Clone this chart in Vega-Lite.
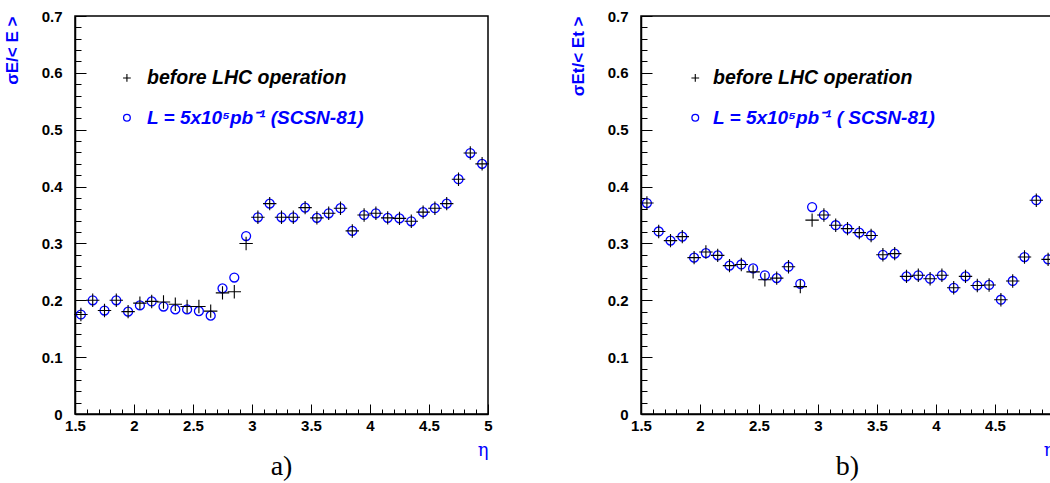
{
  "$schema": "https://vega.github.io/schema/vega-lite/v6.json",
  "padding": {"left": 2, "top": 8, "right": 0, "bottom": 0},
  "background": "white",
  "spacing": 75,
  "datasets": {
    "a": [
      {"eta": 1.55, "before": 0.175, "after": 0.175},
      {"eta": 1.65, "before": 0.200, "after": 0.200},
      {"eta": 1.75, "before": 0.182, "after": 0.182},
      {"eta": 1.85, "before": 0.200, "after": 0.200},
      {"eta": 1.95, "before": 0.180, "after": 0.180},
      {"eta": 2.05, "before": 0.195, "after": 0.191},
      {"eta": 2.15, "before": 0.198, "after": 0.198},
      {"eta": 2.25, "before": 0.197, "after": 0.189},
      {"eta": 2.35, "before": 0.193, "after": 0.184},
      {"eta": 2.45, "before": 0.189, "after": 0.184},
      {"eta": 2.55, "before": 0.189, "after": 0.181},
      {"eta": 2.65, "before": 0.181, "after": 0.173},
      {"eta": 2.75, "before": 0.213, "after": 0.221},
      {"eta": 2.85, "before": 0.215, "after": 0.240},
      {"eta": 2.95, "before": 0.300, "after": 0.313},
      {"eta": 3.05, "before": 0.346, "after": 0.346},
      {"eta": 3.15, "before": 0.370, "after": 0.370},
      {"eta": 3.25, "before": 0.346, "after": 0.346},
      {"eta": 3.35, "before": 0.346, "after": 0.346},
      {"eta": 3.45, "before": 0.363, "after": 0.363},
      {"eta": 3.55, "before": 0.345, "after": 0.345},
      {"eta": 3.65, "before": 0.353, "after": 0.353},
      {"eta": 3.75, "before": 0.362, "after": 0.362},
      {"eta": 3.85, "before": 0.322, "after": 0.322},
      {"eta": 3.95, "before": 0.350, "after": 0.350},
      {"eta": 4.05, "before": 0.353, "after": 0.353},
      {"eta": 4.15, "before": 0.345, "after": 0.345},
      {"eta": 4.25, "before": 0.344, "after": 0.344},
      {"eta": 4.35, "before": 0.339, "after": 0.339},
      {"eta": 4.45, "before": 0.355, "after": 0.355},
      {"eta": 4.55, "before": 0.362, "after": 0.362},
      {"eta": 4.65, "before": 0.370, "after": 0.370},
      {"eta": 4.75, "before": 0.413, "after": 0.413},
      {"eta": 4.85, "before": 0.459, "after": 0.459},
      {"eta": 4.95, "before": 0.440, "after": 0.440}
    ],
    "b": [
      {"eta": 1.55, "before": 0.371, "after": 0.371},
      {"eta": 1.65, "before": 0.321, "after": 0.321},
      {"eta": 1.75, "before": 0.305, "after": 0.305},
      {"eta": 1.85, "before": 0.312, "after": 0.312},
      {"eta": 1.95, "before": 0.275, "after": 0.275},
      {"eta": 2.05, "before": 0.285, "after": 0.283},
      {"eta": 2.15, "before": 0.279, "after": 0.279},
      {"eta": 2.25, "before": 0.261, "after": 0.261},
      {"eta": 2.35, "before": 0.263, "after": 0.263},
      {"eta": 2.45, "before": 0.250, "after": 0.256},
      {"eta": 2.55, "before": 0.236, "after": 0.244},
      {"eta": 2.65, "before": 0.239, "after": 0.239},
      {"eta": 2.75, "before": 0.259, "after": 0.259},
      {"eta": 2.85, "before": 0.224, "after": 0.229},
      {"eta": 2.95, "before": 0.341, "after": 0.364},
      {"eta": 3.05, "before": 0.350, "after": 0.350},
      {"eta": 3.15, "before": 0.332, "after": 0.332},
      {"eta": 3.25, "before": 0.326, "after": 0.326},
      {"eta": 3.35, "before": 0.319, "after": 0.319},
      {"eta": 3.45, "before": 0.314, "after": 0.314},
      {"eta": 3.55, "before": 0.280, "after": 0.280},
      {"eta": 3.65, "before": 0.282, "after": 0.282},
      {"eta": 3.75, "before": 0.242, "after": 0.242},
      {"eta": 3.85, "before": 0.244, "after": 0.244},
      {"eta": 3.95, "before": 0.238, "after": 0.238},
      {"eta": 4.05, "before": 0.244, "after": 0.244},
      {"eta": 4.15, "before": 0.222, "after": 0.222},
      {"eta": 4.25, "before": 0.242, "after": 0.242},
      {"eta": 4.35, "before": 0.226, "after": 0.226},
      {"eta": 4.45, "before": 0.227, "after": 0.227},
      {"eta": 4.55, "before": 0.201, "after": 0.201},
      {"eta": 4.65, "before": 0.234, "after": 0.234},
      {"eta": 4.75, "before": 0.276, "after": 0.276},
      {"eta": 4.85, "before": 0.376, "after": 0.376},
      {"eta": 4.95, "before": 0.272, "after": 0.272}
    ],
    "one": [{}]
  },
  "config": {
    "view": {"stroke": "black", "strokeWidth": 1.5},
    "axis": {
      "grid": false,
      "domainColor": "black",
      "domainWidth": 1.5,
      "tickColor": "black",
      "tickWidth": 1,
      "tickCount": 100,
      "labelFlush": false,
      "labelFont": "Liberation Sans",
      "labelFontSize": 15,
      "labelFontWeight": "bold",
      "labelColor": "black",
      "titleFont": "Liberation Sans",
      "titleColor": "#0000ff"
    },
    "title": {"font": "Liberation Serif", "fontSize": 28, "fontWeight": "normal", "color": "black"}
  },
  "hconcat": [
    {
      "width": 413,
      "height": 398,
      "title": {"text": "a)", "orient": "bottom", "offset": -6},
      "data": {"name": "a"},
      "layer": [
        {
          "mark": {"type": "point", "shape": "circle", "filled": false, "stroke": "#0000ff", "strokeWidth": 1.3, "size": 80, "opacity": 1},
          "encoding": {
            "x": {"field": "eta", "type": "quantitative", "scale": {"domain": [1.5, 5], "nice": false, "zero": false},
              "axis": {"title": "η", "titleFont": "DejaVu Serif", "titleFontSize": 18, "titleFontWeight": "normal", "titleAnchor": "end", "titlePadding": 3, "tickCount": 100, "labelFlush": false,
                "values": [1.5,1.6,1.7,1.8,1.9,2.0,2.1,2.2,2.3,2.4,2.5,2.6,2.7,2.8,2.9,3.0,3.1,3.2,3.3,3.4,3.5,3.6,3.7,3.8,3.9,4.0,4.1,4.2,4.3,4.4,4.5,4.6,4.7,4.8,4.9,5.0],
                "format": "~g",
                "labelExpr": "abs(datum.value*2 - round(datum.value*2)) < 0.01 ? datum.label : ''",
                "tickSize": {"condition": {"test": "abs(datum.value*2 - round(datum.value*2)) < 0.01", "value": -10}, "value": -5},
                "labelPadding": 14, "labelOverlap": false}},
            "y": {"field": "after", "type": "quantitative", "scale": {"domain": [0, 0.7], "nice": false},
              "axis": {"title": "σE/< E >", "titleFontSize": 17, "titleFontWeight": "bold", "titleAnchor": "end", "titlePadding": 20, "tickCount": 100, "labelFlush": false,
                "values": [0,0.02,0.04,0.06,0.08,0.1,0.12,0.14,0.16,0.18,0.2,0.22,0.24,0.26,0.28,0.3,0.32,0.34,0.36,0.38,0.4,0.42,0.44,0.46,0.48,0.5,0.52,0.54,0.56,0.58,0.6,0.62,0.64,0.66,0.68,0.7],
                "format": "~g",
                "labelExpr": "abs(datum.value*10 - round(datum.value*10)) < 0.001 ? datum.label : ''",
                "tickSize": {"condition": {"test": "abs(datum.value*10 - round(datum.value*10)) < 0.001", "value": -11}, "value": -6},
                "labelPadding": 24, "labelOverlap": false}}
          }
        },
        {
          "mark": {"type": "point", "shape": "M-1,0H1M0,-1V1", "filled": false, "stroke": "black", "strokeWidth": 1.1, "size": 180, "opacity": 1},
          "encoding": {
            "x": {"field": "eta", "type": "quantitative"},
            "y": {"field": "before", "type": "quantitative"}
          }
        },
        {
          "data": {"name": "one"},
          "mark": {"type": "point", "shape": "M-1,0H1M0,-1V1", "filled": false, "stroke": "black", "strokeWidth": 1.1, "size": 60, "opacity": 1},
          "encoding": {"x": {"datum": 1.94}, "y": {"datum": 0.591}}
        },
        {
          "data": {"name": "one"},
          "mark": {"type": "point", "shape": "circle", "filled": false, "stroke": "#0000ff", "strokeWidth": 1.3, "size": 45, "opacity": 1},
          "encoding": {"x": {"datum": 1.94}, "y": {"datum": 0.521}}
        },
        {
          "data": {"name": "one"},
          "mark": {"type": "text", "text": "before LHC operation", "align": "left", "baseline": "middle", "font": "Liberation Sans", "fontStyle": "italic", "fontWeight": "bold", "fontSize": 19.5, "color": "black"},
          "encoding": {"x": {"datum": 2.11}, "y": {"datum": 0.591}}
        },
        {
          "data": {"name": "one"},
          "mark": {"type": "text", "text": "L = 5x10⁵pb⁻¹ (SCSN-81)", "align": "left", "baseline": "middle", "font": "Liberation Sans", "fontStyle": "italic", "fontWeight": "bold", "fontSize": 19, "color": "#0000ff"},
          "encoding": {"x": {"datum": 2.11}, "y": {"datum": 0.521}}
        }
      ]
    },
    {
      "width": 413,
      "height": 398,
      "title": {"text": "b)", "orient": "bottom", "offset": -6},
      "data": {"name": "b"},
      "layer": [
        {
          "mark": {"type": "point", "shape": "circle", "filled": false, "stroke": "#0000ff", "strokeWidth": 1.3, "size": 80, "opacity": 1},
          "encoding": {
            "x": {"field": "eta", "type": "quantitative", "scale": {"domain": [1.5, 5], "nice": false, "zero": false},
              "axis": {"title": "η", "titleFont": "DejaVu Serif", "titleFontSize": 18, "titleFontWeight": "normal", "titleAnchor": "end", "titlePadding": 3, "tickCount": 100, "labelFlush": false,
                "values": [1.5,1.6,1.7,1.8,1.9,2.0,2.1,2.2,2.3,2.4,2.5,2.6,2.7,2.8,2.9,3.0,3.1,3.2,3.3,3.4,3.5,3.6,3.7,3.8,3.9,4.0,4.1,4.2,4.3,4.4,4.5,4.6,4.7,4.8,4.9,5.0],
                "format": "~g",
                "labelExpr": "abs(datum.value*2 - round(datum.value*2)) < 0.01 ? datum.label : ''",
                "tickSize": {"condition": {"test": "abs(datum.value*2 - round(datum.value*2)) < 0.01", "value": -10}, "value": -5},
                "labelPadding": 14, "labelOverlap": false}},
            "y": {"field": "after", "type": "quantitative", "scale": {"domain": [0, 0.7], "nice": false},
              "axis": {"title": "σEt/< Et >", "titleFontSize": 17, "titleFontWeight": "bold", "titleAnchor": "end", "titlePadding": 20, "tickCount": 100, "labelFlush": false,
                "values": [0,0.02,0.04,0.06,0.08,0.1,0.12,0.14,0.16,0.18,0.2,0.22,0.24,0.26,0.28,0.3,0.32,0.34,0.36,0.38,0.4,0.42,0.44,0.46,0.48,0.5,0.52,0.54,0.56,0.58,0.6,0.62,0.64,0.66,0.68,0.7],
                "format": "~g",
                "labelExpr": "abs(datum.value*10 - round(datum.value*10)) < 0.001 ? datum.label : ''",
                "tickSize": {"condition": {"test": "abs(datum.value*10 - round(datum.value*10)) < 0.001", "value": -11}, "value": -6},
                "labelPadding": 24, "labelOverlap": false}}
          }
        },
        {
          "mark": {"type": "point", "shape": "M-1,0H1M0,-1V1", "filled": false, "stroke": "black", "strokeWidth": 1.1, "size": 180, "opacity": 1},
          "encoding": {
            "x": {"field": "eta", "type": "quantitative"},
            "y": {"field": "before", "type": "quantitative"}
          }
        },
        {
          "data": {"name": "one"},
          "mark": {"type": "point", "shape": "M-1,0H1M0,-1V1", "filled": false, "stroke": "black", "strokeWidth": 1.1, "size": 60, "opacity": 1},
          "encoding": {"x": {"datum": 1.96}, "y": {"datum": 0.591}}
        },
        {
          "data": {"name": "one"},
          "mark": {"type": "point", "shape": "circle", "filled": false, "stroke": "#0000ff", "strokeWidth": 1.3, "size": 45, "opacity": 1},
          "encoding": {"x": {"datum": 1.96}, "y": {"datum": 0.521}}
        },
        {
          "data": {"name": "one"},
          "mark": {"type": "text", "text": "before LHC operation", "align": "left", "baseline": "middle", "font": "Liberation Sans", "fontStyle": "italic", "fontWeight": "bold", "fontSize": 19.5, "color": "black"},
          "encoding": {"x": {"datum": 2.11}, "y": {"datum": 0.591}}
        },
        {
          "data": {"name": "one"},
          "mark": {"type": "text", "text": "L = 5x10⁵pb⁻¹ ( SCSN-81)", "align": "left", "baseline": "middle", "font": "Liberation Sans", "fontStyle": "italic", "fontWeight": "bold", "fontSize": 19, "color": "#0000ff"},
          "encoding": {"x": {"datum": 2.11}, "y": {"datum": 0.521}}
        }
      ]
    }
  ]
}
